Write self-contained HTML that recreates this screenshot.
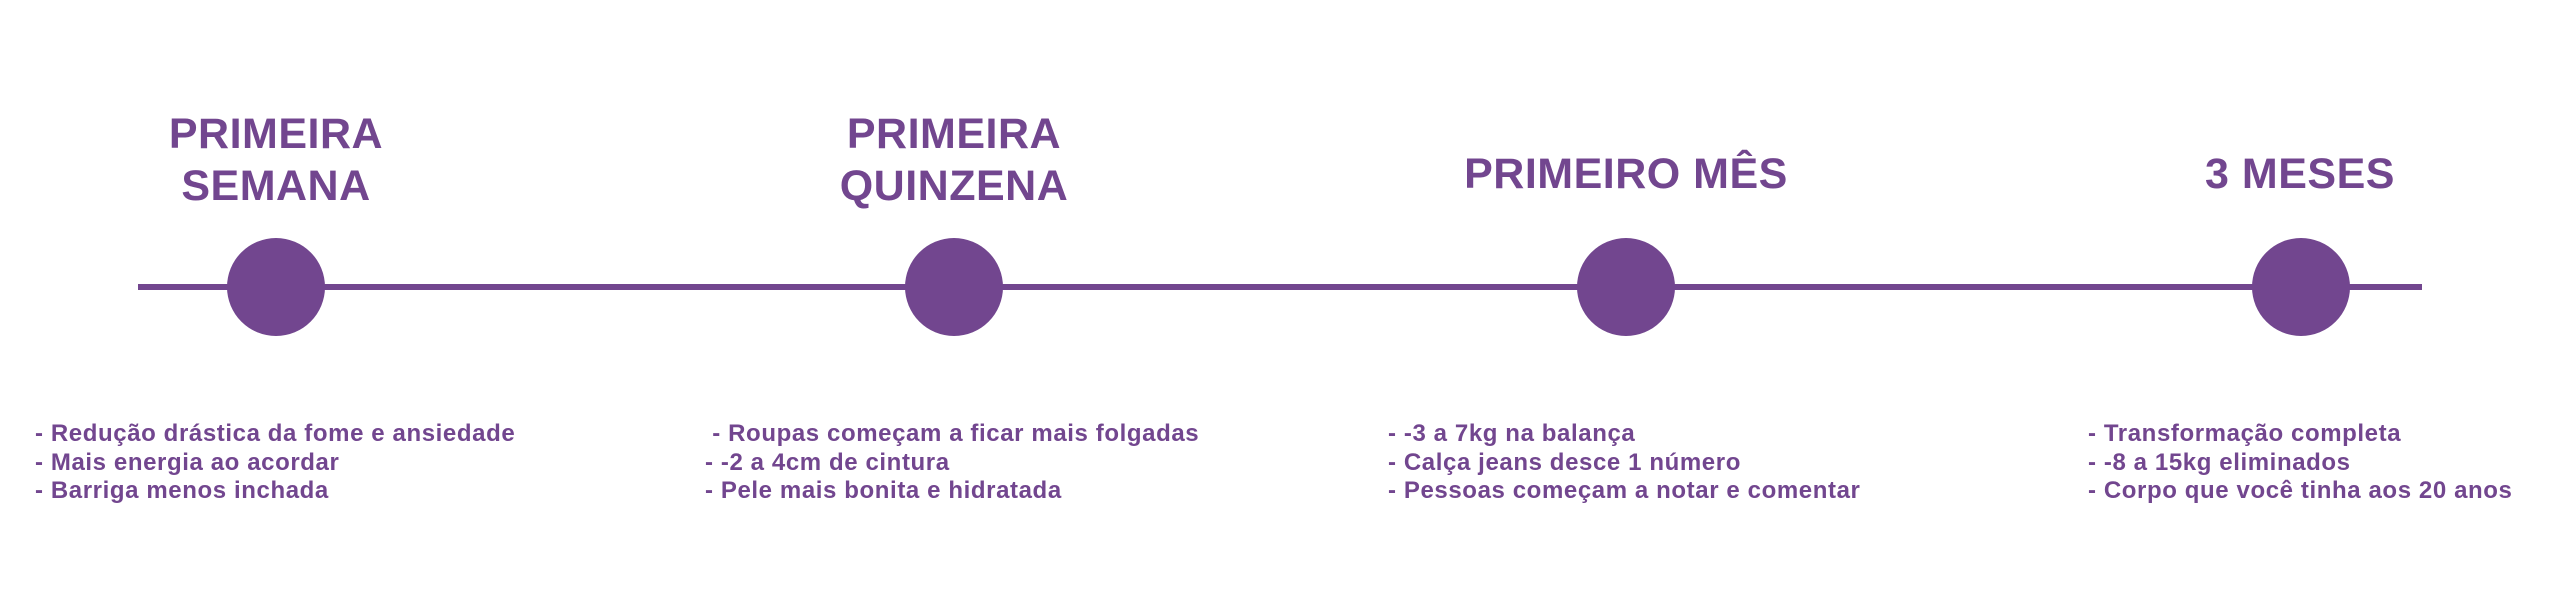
<!DOCTYPE html>
<html><head><meta charset="utf-8"><style>
body{margin:0;width:2560px;height:605px;background:#fff;position:relative;overflow:hidden;font-family:"Liberation Sans",sans-serif;color:#72468f}
.t{position:absolute;font-weight:bold;font-size:43px;line-height:52px;text-align:center;width:500px;letter-spacing:0.5px}
.line{position:absolute;left:138px;top:284px;width:2284px;height:6px;background:#72468f}
.c{position:absolute;width:98px;height:98px;border-radius:50%;background:#72468f;top:238px}
.b{position:absolute;font-weight:bold;font-size:24px;line-height:28.5px;top:420px;white-space:pre;letter-spacing:0.6px}
</style></head><body>
<div class="t" style="left:26px;top:108px">PRIMEIRA<br>SEMANA</div>
<div class="t" style="left:704px;top:108px">PRIMEIRA<br>QUINZENA</div>
<div class="t" style="left:1376px;top:148px">PRIMEIRO MÊS</div>
<div class="t" style="left:2050px;top:148px">3 MESES</div>
<div class="line"></div>
<div class="c" style="left:227px"></div>
<div class="c" style="left:905px"></div>
<div class="c" style="left:1577px"></div>
<div class="c" style="left:2252px"></div>
<div class="b" style="left:35px">- Redução drástica da fome e ansiedade
- Mais energia ao acordar
- Barriga menos inchada</div>
<div class="b" style="left:705px"> - Roupas começam a ficar mais folgadas
- -2 a 4cm de cintura
- Pele mais bonita e hidratada</div>
<div class="b" style="left:1388px">- -3 a 7kg na balança
- Calça jeans desce 1 número
- Pessoas começam a notar e comentar</div>
<div class="b" style="left:2088px">- Transformação completa
- -8 a 15kg eliminados
- Corpo que você tinha aos 20 anos</div>
</body></html>
